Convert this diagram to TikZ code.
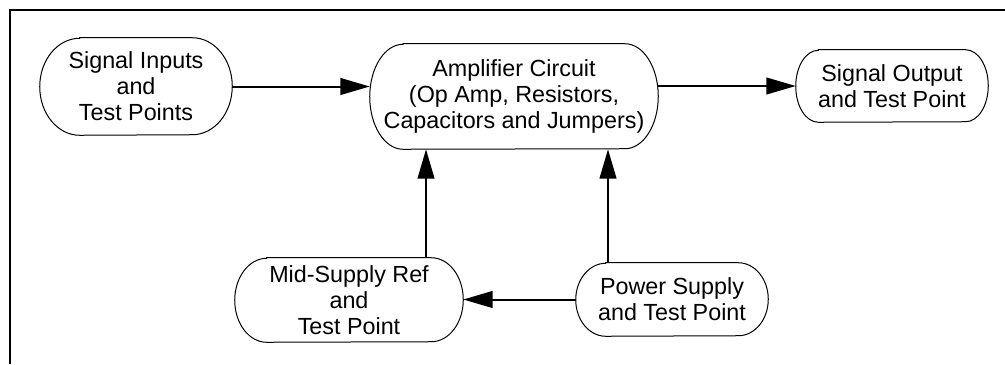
\documentclass[tikz,border=0pt]{standalone}
\usepackage{fontspec}
\setmainfont{Liberation Sans}
\usetikzlibrary{arrows.meta}
\newcommand\pill[3]{\draw[line width=0.75pt] ([xshift=#2]#1.north west) -- ([xshift=-#2]#1.north east)
  arc[start angle=90,end angle=-90,x radius=#2,y radius=#3] -- ([xshift=#2]#1.south west)
  arc[start angle=270,end angle=90,x radius=#2,y radius=#3] -- cycle;}
\begin{document}
\begin{tikzpicture}[x=0.75pt,y=-0.75pt,
  blk/.style={align=center,inner sep=0pt,
    font=\fontsize{17.5pt}{19.5pt}\selectfont},
  conn/.style={line width=1.5pt,-{Triangle[length=22pt,width=12.5pt]}}]
\useasboundingbox (0,0) rectangle (1005,364);
\draw[line width=2pt] (10,364) -- (10,10) -- (1005,10);
\node[blk,minimum width=144pt,minimum height=72.75pt] (si) at (136,86.5) {Signal Inputs\\and\\Test Points};
\node[blk,minimum width=216pt,minimum height=78.75pt] (amp) at (514,96.5) {Amplifier Circuit\\(Op Amp, Resistors,\\Capacitors and Jumpers)};
\node[blk,minimum width=144pt,minimum height=54pt] (out) at (892,86) {Signal Output\\and Test Point};
\node[blk,minimum width=171pt,minimum height=63pt] (mid) at (349,300) {Mid-Supply Ref\\and\\Test Point};
\node[blk,minimum width=144pt,minimum height=54.75pt] (ps) at (672,299.5) {Power Supply\\and Test Point};
\pill{si}{30pt}{36.375pt}
\pill{amp}{25pt}{39.375pt}
\pill{out}{17pt}{27pt}
\pill{mid}{24pt}{31.5pt}
\pill{ps}{22.5pt}{27.375pt}
\coordinate (c1) at (426,0);
\coordinate (c2) at (608,0);
\draw[conn] (si.east) -- (si.east -| amp.west);
\draw[conn] (amp.east |- out.west) -- (out.west);
\draw[conn] (ps.west) -- (ps.west -| mid.east);
\draw[conn] (c1 |- mid.north) -- (c1 |- amp.south);
\draw[conn] (c2 |- ps.north) -- (c2 |- amp.south);
\end{tikzpicture}
\end{document}
